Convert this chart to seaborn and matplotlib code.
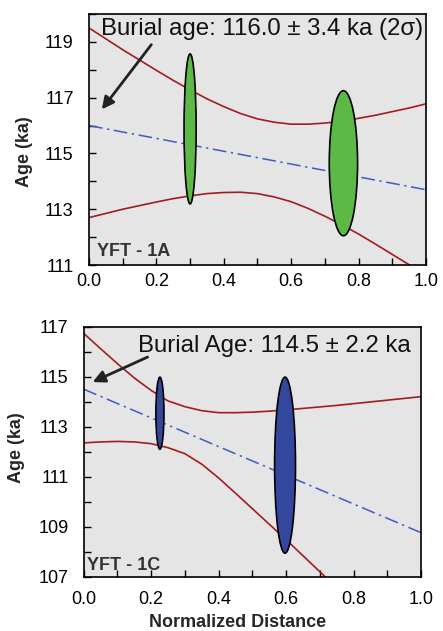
import matplotlib
matplotlib.use("Agg")
import matplotlib.pyplot as plt
from matplotlib.patches import Ellipse
from matplotlib.ticker import MultipleLocator
import numpy as np
import pandas as pd
import seaborn as sns

# ---- YFT-1A ----
dist_grid = [0.00, 0.05, 0.10, 0.15, 0.20, 0.25, 0.30, 0.35, 0.40, 0.45, 0.50,
             0.55, 0.60, 0.65, 0.70, 0.75, 0.80, 0.85, 0.90, 0.95, 1.00]
a_upper = [119.50, 119.11, 118.72, 118.35, 117.98, 117.62, 117.28, 116.96, 116.68, 116.43, 116.24,
           116.12, 116.05, 116.05, 116.09, 116.16, 116.26, 116.37, 116.50, 116.63, 116.78]
a_lower = [112.70, 112.85, 113.00, 113.13, 113.26, 113.38, 113.48, 113.56, 113.60, 113.61, 113.56,
           113.44, 113.27, 113.03, 112.75, 112.44, 112.11, 111.75, 111.38, 111.01, 110.63]
a_fit_x = [0.0, 1.0]
a_fit_y = [116.0, 113.7]
a_x = [0.300, 0.755]
a_xerr = [0.018, 0.042]
a_age = [115.88, 114.65]
a_ageerr = [2.69, 2.60]
a_label = "Burial age: 116.0 \u00b1 3.4 ka (2\u03c3)"

# ---- YFT-1C ----
c_upper = [116.73, 116.12, 115.52, 114.95, 114.45, 114.03, 113.80, 113.64, 113.56, 113.56, 113.58,
           113.62, 113.67, 113.73, 113.79, 113.85, 113.92, 113.99, 114.06, 114.13, 114.20]
c_lower = [112.35, 112.39, 112.41, 112.39, 112.32, 112.16, 111.92, 111.50, 110.95, 110.34, 109.72,
           109.10, 108.48, 107.84, 107.20, 106.56, 105.91, 105.27, 104.62, 103.97, 103.32]
c_fit_x = [0.0, 1.0]
c_fit_y = [114.5, 108.76]
c_x = [0.226, 0.597]
c_xerr = [0.012, 0.031]
c_age = [113.54, 111.46]
c_ageerr = [1.44, 3.52]
c_label = "Burial Age: 114.5 \u00b1 2.2 ka"

RED = "#a31d1f"
BLUE_LINE = "#3d5cc4"

sns.set_theme(style="ticks", rc={"axes.facecolor": "#e5e5e5"})
plt.rcParams["font.family"] = ["Liberation Sans", "DejaVu Sans"]

fig = plt.figure(figsize=(4.43, 6.31), dpi=100)
ax1 = fig.add_axes([0.2009, 0.5800, 0.7607, 0.3978])
ax2 = fig.add_axes([0.1889, 0.0861, 0.7614, 0.3962])


def draw_panel(ax, upper, lower, fit_x, fit_y, xs, xerr, ys, yerr, color):
    sns.lineplot(x=dist_grid, y=upper, ax=ax, color=RED, lw=1.2)
    sns.lineplot(x=dist_grid, y=lower, ax=ax, color=RED, lw=1.2)
    fit = sns.lineplot(x=fit_x, y=fit_y, ax=ax, color=BLUE_LINE, lw=1.1)
    fit.lines[-1].set_linestyle((0, (9, 3, 1.5, 3)))
    for x, xe, y, ye in zip(xs, xerr, ys, yerr):
        ax.add_patch(Ellipse((x, y), 2 * xe, 2 * ye, facecolor=color,
                             edgecolor="black", lw=1.2, zorder=4))
    for s in ax.spines.values():
        s.set_visible(True)
        s.set_color("black")
        s.set_linewidth(1.2)
    ax.set_xlim(0, 1)
    ax.xaxis.set_major_locator(MultipleLocator(0.2))
    ax.xaxis.set_minor_locator(MultipleLocator(0.1))
    ax.yaxis.set_minor_locator(MultipleLocator(1))
    ax.tick_params(which="both", direction="in", length=5, width=1,
                   color="black", top=False, right=False)
    ax.tick_params(axis="both", which="major", labelsize=13, labelcolor="black")
    ax.set_xticklabels([f"{v:.1f}" for v in ax.get_xticks()])


draw_panel(ax1, a_upper, a_lower, a_fit_x, a_fit_y, a_x, a_xerr, a_age, a_ageerr, "#5cb946")
ax1.set_ylim(111, 120)
ax1.set_yticks([111, 113, 115, 117, 119])
ax1.tick_params(axis="y", pad=11)
ax1.tick_params(axis="x", pad=6)
ax1.text(0.036, 119.26, a_label, fontsize=17.3, ha="left", va="baseline", color="#111111")
ax1.annotate("", xy=(0.033, 116.5), xytext=(0.19, 118.98),
             arrowprops=dict(arrowstyle="-|>", lw=2, color="#222222", mutation_scale=18))
ax1.text(0.024, 111.32, "YFT - 1A", fontsize=13, fontweight="bold", color="#333333",
         ha="left", va="baseline")
ax1.set_ylabel("Age (ka)", fontsize=13, fontweight="bold")
ax1.yaxis.set_label_coords(-0.167, 0.452)
ax1.set_xlabel("")

draw_panel(ax2, c_upper, c_lower, c_fit_x, c_fit_y, c_x, c_xerr, c_age, c_ageerr, "#33489c")
ax2.set_ylim(107, 117)
ax2.set_yticks([107, 109, 111, 113, 115, 117])
ax2.tick_params(axis="y", pad=11)
ax2.tick_params(axis="x", pad=10)
ax2.text(0.161, 116.0, c_label, fontsize=17.3, ha="left", va="baseline", color="#111111")
ax2.annotate("", xy=(0.019, 114.74), xytext=(0.197, 115.83),
             arrowprops=dict(arrowstyle="-|>", lw=2, color="#222222", mutation_scale=18))
ax2.text(0.010, 107.27, "YFT - 1C", fontsize=13, fontweight="bold", color="#333333",
         ha="left", va="baseline")
ax2.set_ylabel("Age (ka)", fontsize=13, fontweight="bold")
ax2.yaxis.set_label_coords(-0.174, 0.517)
ax2.set_xlabel("Normalized Distance", fontsize=13, fontweight="bold")
ax2.xaxis.set_label_coords(0.456, -0.15)

fig.savefig("out.png", dpi=100)
